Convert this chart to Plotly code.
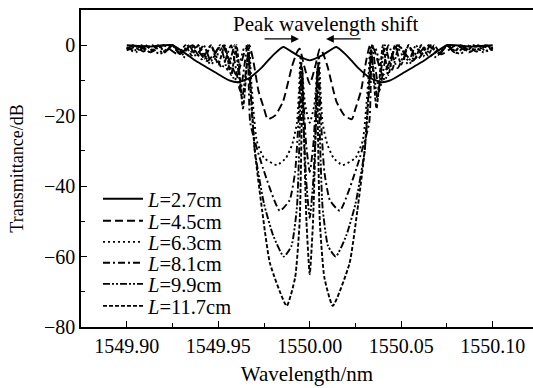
import plotly.graph_objects as go

# Transmission spectra of the grating for six grating lengths
# wavelength in nm, transmittance in dB

wl_27 = [1549.900, 1549.912, 1549.925, 1549.937, 1549.948, 1549.956, 1549.961, 1549.967,
         1549.974, 1549.980, 1549.9855, 1549.993, 1550.000, 1550.007, 1550.0145, 1550.020,
         1550.026, 1550.033, 1550.039, 1550.044, 1550.052, 1550.063, 1550.075, 1550.088, 1550.100]
db_27 = [0.0, -0.4, 0.0, -4.2, -7.6, -10.0, -10.5, -9.3,
         -6.2, -2.8, -0.5, -2.8, -4.3, -2.8, -0.5, -2.8,
         -6.2, -9.3, -10.5, -10.0, -7.6, -4.2, 0.0, -0.4, 0.0]

wl_45 = [1549.900, 1549.906, 1549.913, 1549.920, 1549.928, 1549.936, 1549.944, 1549.952,
         1549.960, 1549.965, 1549.967, 1549.969, 1549.972, 1549.975, 1549.977, 1549.981,
         1549.9854, 1549.9903, 1549.993, 1549.9945, 1549.997, 1550.000, 1550.003, 1550.0055,
         1550.007, 1550.0097, 1550.0146, 1550.019, 1550.023, 1550.025, 1550.028, 1550.031,
         1550.033, 1550.035, 1550.040, 1550.048, 1550.056, 1550.064, 1550.072, 1550.080,
         1550.087, 1550.094, 1550.100]
db_45 = [-1.5, -0.2, -2.0, 0.0, -2.6, 0.0, -4.5, 0.0,
         -8.5, -1.0, 0.0, -4.0, -13.0, -18.0, -21.0, -20.0,
         -16.0, -6.0, -2.0, -1.0, -6.0, -11.0, -6.0, -1.0,
         -2.0, -6.0, -16.0, -20.0, -21.0, -18.0, -13.0, -4.0,
         0.0, -1.0, -8.5, 0.0, -4.5, 0.0, -2.6, 0.0,
         -2.0, -0.2, -1.5]

wl_63 = [1549.900, 1549.905, 1549.911, 1549.918, 1549.925, 1549.932, 1549.939, 1549.946,
         1549.953, 1549.959, 1549.964, 1549.9665, 1549.968, 1549.971, 1549.975, 1549.982,
         1549.987, 1549.9905, 1549.993, 1549.9942, 1549.995, 1549.996, 1549.9975, 1550.000,
         1550.0025, 1550.004, 1550.005, 1550.0058, 1550.007, 1550.0095, 1550.013, 1550.018,
         1550.025, 1550.029, 1550.032, 1550.0335, 1550.036, 1550.041, 1550.047, 1550.054,
         1550.061, 1550.068, 1550.075, 1550.082, 1550.089, 1550.095, 1550.100]
db_63 = [-0.8, -2.0, 0.0, -2.5, 0.0, -3.5, 0.0, -5.5,
         0.0, -10.0, -1.0, 0.0, -10.0, -27.0, -32.0, -34.0,
         -32.0, -28.0, -22.0, -12.0, -3.0, -8.0, -17.0, -22.0,
         -17.0, -8.0, -3.0, -12.0, -22.0, -28.0, -32.0, -34.0,
         -32.0, -27.0, -10.0, 0.0, -1.0, -10.0, 0.0, -5.5,
         0.0, -3.5, 0.0, -2.5, 0.0, -2.0, -0.8]

wl_81 = [1549.900, 1549.904, 1549.909, 1549.914, 1549.920, 1549.925, 1549.930, 1549.935,
         1549.941, 1549.946, 1549.952, 1549.957, 1549.962, 1549.966, 1549.9675, 1549.9745,
         1549.9836, 1549.989, 1549.992, 1549.994, 1549.9952, 1549.9962, 1549.998, 1550.000,
         1550.002, 1550.0038, 1550.0048, 1550.006, 1550.008, 1550.011, 1550.0164, 1550.0255,
         1550.0325, 1550.034, 1550.038, 1550.043, 1550.048, 1550.054, 1550.059, 1550.065,
         1550.070, 1550.075, 1550.080, 1550.086, 1550.091, 1550.096, 1550.100]
db_81 = [-1.0, 0.0, -1.8, 0.0, -2.2, 0.0, -2.8, 0.0,
         -4.0, 0.0, -6.5, 0.0, -13.0, 0.0, -22.0, -35.0,
         -47.0, -44.0, -36.0, -20.0, -5.0, -12.0, -28.0, -36.0,
         -28.0, -12.0, -5.0, -20.0, -36.0, -44.0, -47.0, -35.0,
         -22.0, 0.0, -13.0, 0.0, -6.5, 0.0, -4.0, 0.0,
         -2.8, 0.0, -2.2, 0.0, -1.8, 0.0, -1.0]

wl_99 = [1549.900, 1549.904, 1549.908, 1549.912, 1549.917, 1549.921, 1549.925, 1549.929,
         1549.934, 1549.938, 1549.942, 1549.946, 1549.951, 1549.955, 1549.959, 1549.963,
         1549.9665, 1549.9675, 1549.970, 1549.975, 1549.980, 1549.9858, 1549.990, 1549.993,
         1549.9945, 1549.9954, 1549.9963, 1549.998, 1550.000, 1550.002, 1550.0037, 1550.0046,
         1550.0055, 1550.007, 1550.010, 1550.0142, 1550.020, 1550.025, 1550.030, 1550.0325,
         1550.0335, 1550.037, 1550.041, 1550.045, 1550.049, 1550.054, 1550.058, 1550.062,
         1550.066, 1550.071, 1550.075, 1550.079, 1550.083, 1550.088, 1550.092, 1550.096,
         1550.100]
db_99 = [-0.5, -1.6, 0.0, -1.8, 0.0, -2.0, 0.0, -2.5,
         0.0, -3.2, 0.0, -4.5, 0.0, -7.0, 0.0, -15.0,
         -2.0, -12.0, -30.0, -45.0, -54.0, -60.0, -57.0, -46.0,
         -25.0, -6.0, -18.0, -38.0, -49.0, -38.0, -18.0, -6.0,
         -25.0, -46.0, -57.0, -60.0, -54.0, -45.0, -30.0, -12.0,
         -2.0, -15.0, 0.0, -7.0, 0.0, -4.5, 0.0, -3.2,
         0.0, -2.5, 0.0, -2.0, 0.0, -1.8, 0.0, -1.6,
         -0.5]

wl_117 = [1549.900, 1549.9035, 1549.907, 1549.9105, 1549.914, 1549.9175, 1549.921, 1549.925,
          1549.9285, 1549.932, 1549.9355, 1549.939, 1549.9425, 1549.946, 1549.950, 1549.9535,
          1549.957, 1549.960, 1549.9635, 1549.9665, 1549.9675, 1549.970, 1549.974, 1549.9783,
          1549.9874, 1549.992, 1549.9945, 1549.9955, 1549.996, 1549.9968, 1549.9982, 1550.000,
          1550.0018, 1550.0032, 1550.004, 1550.0045, 1550.0055, 1550.008, 1550.0126, 1550.0217,
          1550.026, 1550.030, 1550.0325, 1550.0335, 1550.0365, 1550.040, 1550.043, 1550.0465,
          1550.050, 1550.054, 1550.0575, 1550.061, 1550.0645, 1550.068, 1550.0715, 1550.075,
          1550.079, 1550.0825, 1550.086, 1550.0895, 1550.093, 1550.0965, 1550.100]
db_117 = [-1.2, 0.0, -1.4, 0.0, -1.6, 0.0, -1.9, 0.0,
          -2.3, 0.0, -2.9, 0.0, -3.8, 0.0, -5.5, 0.0,
          -8.5, 0.0, -18.0, -1.0, -10.0, -30.0, -47.0, -62.0,
          -74.0, -66.0, -50.0, -25.0, -7.0, -25.0, -50.0, -65.0,
          -50.0, -25.0, -7.0, -25.0, -50.0, -66.0, -74.0, -62.0,
          -47.0, -30.0, -10.0, -1.0, -18.0, 0.0, -8.5, 0.0,
          -5.5, 0.0, -3.8, 0.0, -2.9, 0.0, -2.3, 0.0,
          -1.9, 0.0, -1.6, 0.0, -1.4, 0.0, -1.2]

lengths = ["2.7", "4.5", "6.3", "8.1", "9.9", "11.7"]
wavelengths = [wl_27, wl_45, wl_63, wl_81, wl_99, wl_117]
transmittance = [db_27, db_45, db_63, db_81, db_99, db_117]
dashes = ["solid", "8px,4px", "2px,3px", "7px,3px,2px,3px",
          "7px,2px,2px,2px,2px,2px", "4px,2px"]

FONT = "Liberation Serif, Times New Roman, serif"

# one legend box per trace so the rows can sit closer than plotly's default spacing
legend_names = ["legend", "legend2", "legend3", "legend4", "legend5", "legend6"]
legend_rows = [0.4038, 0.3344, 0.2681, 0.2019, 0.1356, 0.0662]

fig = go.Figure()
for name, x, y, d, lg in zip(lengths, wavelengths, transmittance, dashes, legend_names):
    fig.add_trace(go.Scatter(
        x=x, y=y, mode="lines", name=f"<i>L</i>={name}cm", legend=lg,
        line=dict(color="black", width=1.9, dash=d, shape="spline", smoothing=0.5),
    ))

# arrows marking the shift of the two transmission peaks
fig.add_annotation(x=1549.9941, y=1.8, ax=1549.9745, ay=1.8, xref="x", yref="y",
                   axref="x", ayref="y", text="", showarrow=True,
                   arrowhead=2, arrowsize=1.2, arrowwidth=1.3, arrowcolor="black")
fig.add_annotation(x=1550.0089, y=1.8, ax=1550.0286, ay=1.8, xref="x", yref="y",
                   axref="x", ayref="y", text="", showarrow=True,
                   arrowhead=2, arrowsize=1.2, arrowwidth=1.3, arrowcolor="black")
fig.add_annotation(x=1550.0089, y=6.0, xref="x", yref="y", text="Peak wavelength shift",
                   showarrow=False, font=dict(family=FONT, size=21, color="black"),
                   xanchor="center", yanchor="middle")

axis_common = dict(
    showgrid=False, zeroline=False, showline=True, linecolor="black", linewidth=1.5,
    ticks="inside", ticklen=6, tickwidth=1.3, tickcolor="black",
    tickfont=dict(family=FONT, size=20, color="black"),
)

fig.update_xaxes(
    range=[1549.875, 1550.122], tickvals=[1549.90, 1549.95, 1550.00, 1550.05, 1550.10],
    ticktext=["1549.90", "1549.95", "1550.00", "1550.05", "1550.10"],
    mirror=True,
    minor=dict(ticks="inside", ticklen=4, tickwidth=1.2, tickcolor="black", dtick=0.025,
               tick0=1549.90),
    title=dict(text="Wavelength/nm", font=dict(family=FONT, size=21, color="black"),
               standoff=11),
    **axis_common,
)
fig.update_yaxes(
    range=[-80, 10], tickvals=[0, -20, -40, -60, -80],
    ticktext=["0", "\u221220", "\u221240", "\u221260", "\u221280"],
    minor=dict(ticks="inside", ticklen=4, tickwidth=1.2, tickcolor="black", dtick=10,
               tick0=0),
    title=dict(text="Transmittance/dB", font=dict(family=FONT, size=18, color="black"),
               standoff=16),
    **axis_common,
)

legend_style = dict(x=0.0376, xanchor="left", yanchor="middle",
                    bgcolor="rgba(0,0,0,0)", itemwidth=40, borderwidth=0,
                    font=dict(family=FONT, size=20.5, color="black"))
fig.update_layout(
    width=533, height=388,
    margin=dict(l=81, r=0, t=10, b=61),
    paper_bgcolor="white", plot_bgcolor="white",
    showlegend=True,
    **{lg: dict(y=row, **legend_style) for lg, row in zip(legend_names, legend_rows)},
)

fig.write_html("out.html")
